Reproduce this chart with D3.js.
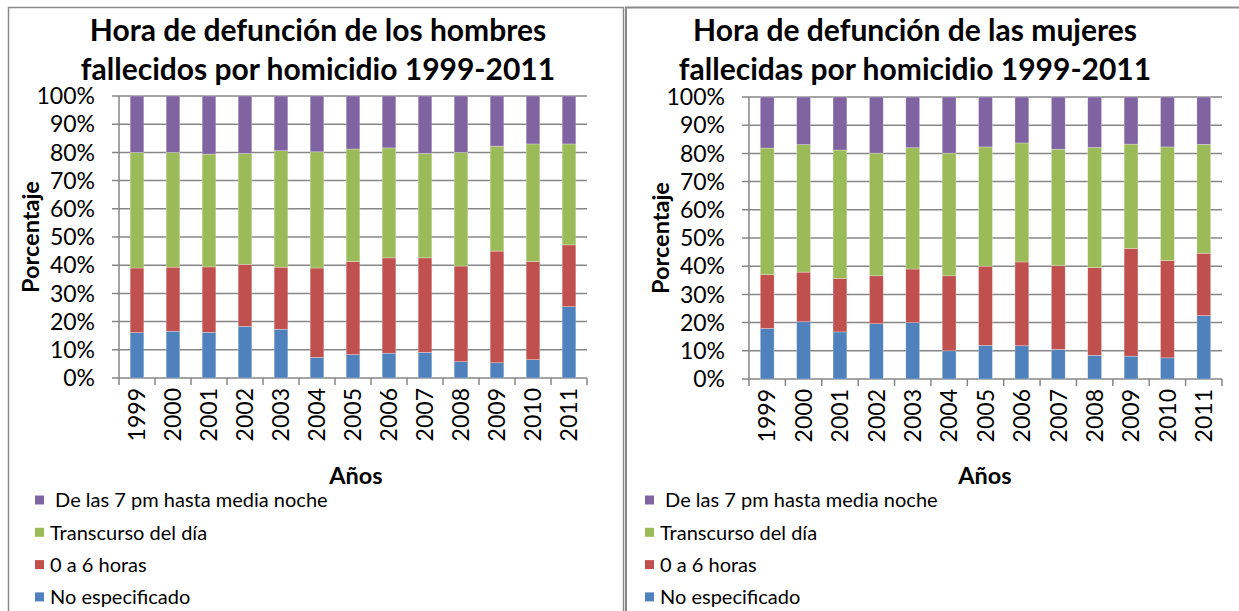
<!DOCTYPE html>
<html>
<head>
<meta charset="utf-8">
<script src="https://cdn.jsdelivr.net/npm/d3@7"></script>
<style>
  body { margin: 0; background: #fff; }
  text { font-family: Lato, "Open Sans", sans-serif; fill: #000; }
  .title { font-weight: bold; font-size: 30px; }
  .axis_title { font-weight: bold; font-size: 23.5px; }
  .tick_lbl { font-size: 23px; }
  .legend_lbl { font-size: 20px; }
</style>
</head>
<body>
<div id="chart"></div>
<script>
// datos (porcentaje por franja horaria)
var years = ["1999", "2000", "2001", "2002", "2003", "2004", "2005", "2006", "2007", "2008", "2009", "2010", "2011"];
var yTicks = [0, 10, 20, 30, 40, 50, 60, 70, 80, 90, 100];
var seriesNames = ["No especificado", "0 a 6 horas", "Transcurso del día", " De las 7 pm hasta media noche"];
var seriesKeys = ["noesp", "madrugada", "dia", "noche"];

var hombres_noesp = [16.1, 16.6, 16.2, 18.3, 17.3, 7.3, 8.3, 8.8, 9.1, 5.8, 5.4, 6.5, 25.3];
var hombres_madrugada = [22.9, 22.7, 23.2, 22.0, 22.0, 31.7, 33.0, 33.8, 33.5, 33.9, 39.6, 34.8, 21.9];
var hombres_dia = [41.0, 40.7, 40.0, 39.3, 41.3, 41.2, 39.9, 39.0, 37.0, 40.3, 37.2, 41.7, 35.8];
var hombres_noche = [20.0, 20.0, 20.6, 20.4, 19.4, 19.8, 18.8, 18.4, 20.4, 20.0, 17.8, 17.0, 17.0];

var mujeres_noesp = [17.9, 20.3, 16.7, 19.6, 20.0, 10.0, 11.9, 11.8, 10.5, 8.4, 8.1, 7.5, 22.5];
var mujeres_madrugada = [19.1, 17.6, 19.0, 17.0, 19.0, 26.6, 28.1, 29.7, 29.7, 31.1, 38.2, 34.5, 22.1];
var mujeres_dia = [44.9, 45.2, 45.5, 43.5, 43.0, 43.5, 42.3, 42.2, 41.3, 42.6, 37.0, 40.3, 38.6];
var mujeres_noche = [18.1, 16.9, 18.8, 19.9, 18.0, 19.9, 17.7, 16.3, 18.5, 17.9, 16.7, 17.7, 16.8];

var colour_scale = d3.scaleOrdinal()
    .domain(seriesKeys)
    .range(["#4F81BD", "#C0504D", "#9BBB59", "#8064A2"]);

var W = 1239, H = 611;

var svg = d3.select("#chart")
    .append("svg")
    .attr("width", W)
    .attr("height", H);

// marcos de los dos graficos
svg.append("rect")
    .attr("x", 8.5).attr("y", 7.5)
    .attr("width", 615).attr("height", 620)
    .attr("fill", "none")
    .attr("stroke", "#8a8a8a")
    .attr("stroke-width", 1.5);
svg.append("rect")
    .attr("x", 626).attr("y", 7.5)
    .attr("width", 630).attr("height", 620)
    .attr("fill", "none")
    .attr("stroke", "#8a8a8a")
    .attr("stroke-width", 2);

function buildRows(noesp, madrugada, dia, noche) {
    return years.map(function(y, i) {
        return { year: y, noesp: noesp[i], madrugada: madrugada[i], dia: dia[i], noche: noche[i] };
    });
}

function drawChart(cfg) {
    var g = svg.append("g");

    var x_scale = d3.scaleBand()
        .domain(years)
        .range([cfg.left, cfg.right])
        .paddingInner(0.62)
        .paddingOuter(0.31);

    var y_scale = d3.scaleLinear()
        .domain([0, 100])
        .range([cfg.bottom, cfg.top]);

    // lineas de la cuadricula
    g.selectAll(".grid")
        .data(yTicks)
        .enter()
        .append("line")
        .attr("x1", cfg.left - 7)
        .attr("x2", cfg.right)
        .attr("y1", function(d) { return y_scale(d); })
        .attr("y2", function(d) { return y_scale(d); })
        .attr("stroke", "#868686")
        .attr("stroke-width", 1.5);

    g.selectAll(".ylbl")
        .data(yTicks)
        .enter()
        .append("text")
        .attr("class", "tick_lbl")
        .attr("x", cfg.left - 24)
        .attr("y", function(d) { return y_scale(d); })
        .attr("dy", "0.36em")
        .attr("text-anchor", "end")
        .text(function(d) { return d + "%"; });

    var stack = d3.stack().keys(seriesKeys);
    var layers = stack(cfg.rows);

    g.selectAll(".layer")
        .data(layers)
        .enter()
        .append("g")
        .attr("fill", function(d) { return colour_scale(d.key); })
        .selectAll("rect")
        .data(function(d) { return d; })
        .enter()
        .append("rect")
        .attr("x", function(d) { return x_scale(d.data.year); })
        .attr("width", x_scale.bandwidth())
        .attr("y", function(d) { return y_scale(d[1]); })
        .attr("height", function(d) { return y_scale(d[0]) - y_scale(d[1]); })
        .attr("stroke", "rgba(255,255,255,0.45)")
        .attr("stroke-width", 0.6);

    // eje vertical y horizontal
    g.append("line")
        .attr("x1", cfg.left).attr("x2", cfg.left)
        .attr("y1", cfg.top).attr("y2", cfg.bottom)
        .attr("stroke", "#868686")
        .attr("stroke-width", 1.5);

    var step = x_scale.step();
    g.selectAll(".xtick")
        .data(d3.range(years.length + 1))
        .enter()
        .append("line")
        .attr("x1", function(i) { return cfg.left + i * step; })
        .attr("x2", function(i) { return cfg.left + i * step; })
        .attr("y1", cfg.bottom)
        .attr("y2", cfg.bottom + 7)
        .attr("stroke", "#868686")
        .attr("stroke-width", 1.5);

    g.selectAll(".xlbl")
        .data(years)
        .enter()
        .append("text")
        .attr("class", "tick_lbl")
        .attr("transform", function(d) {
            return "translate(" + (x_scale(d) + x_scale.bandwidth() / 2) + "," + (cfg.bottom + 10) + ") rotate(-90)";
        })
        .attr("dy", "0.36em")
        .attr("text-anchor", "end")
        .text(function(d) { return d; });

    g.append("text")
        .attr("class", "title")
        .attr("x", cfg.titleX)
        .attr("y", 41)
        .attr("text-anchor", "middle")
        .text(cfg.title1);
    g.append("text")
        .attr("class", "title")
        .attr("x", cfg.titleX)
        .attr("y", 79.5)
        .attr("text-anchor", "middle")
        .text(cfg.title2);

    g.append("text")
        .attr("class", "axis_title")
        .attr("transform", "translate(" + (cfg.left - 80) + "," + ((cfg.top + cfg.bottom) / 2) + ") rotate(-90)")
        .attr("text-anchor", "middle")
        .text("Porcentaje");

    g.append("text")
        .attr("class", "axis_title")
        .attr("x", cfg.aniosX)
        .attr("y", 484)
        .attr("text-anchor", "middle")
        .text("Años");

    // leyenda (de arriba hacia abajo en orden inverso)
    var legend = g.selectAll(".legend")
        .data(seriesKeys.slice().reverse())
        .enter()
        .append("g")
        .attr("transform", function(d, i) {
            return "translate(" + cfg.legendX + "," + (500 + i * 32.3) + ")";
        });
    legend.append("rect")
        .attr("x", 0).attr("y", -4.5)
        .attr("width", 9).attr("height", 9)
        .attr("fill", function(d) { return colour_scale(d); });
    legend.append("text")
        .attr("class", "legend_lbl")
        .attr("x", 15)
        .attr("dy", "0.36em")
        .style("white-space", "pre")
        .attr("xml:space", "preserve")
        .text(function(d) { return seriesNames[seriesKeys.indexOf(d)]; });
}

drawChart({
    rows: buildRows(hombres_noesp, hombres_madrugada, hombres_dia, hombres_noche),
    left: 119, right: 587, top: 96, bottom: 378,
    titleX: 318, aniosX: 356, legendX: 35,
    title1: "Hora de defunción de los hombres",
    title2: "fallecidos por homicidio 1999-2011"
});

drawChart({
    rows: buildRows(mujeres_noesp, mujeres_madrugada, mujeres_dia, mujeres_noche),
    left: 749, right: 1222, top: 97, bottom: 379,
    titleX: 915, aniosX: 985, legendX: 645,
    title1: "Hora de defunción de las mujeres",
    title2: "fallecidas por homicidio 1999-2011"
});
</script>
</body>
</html>
